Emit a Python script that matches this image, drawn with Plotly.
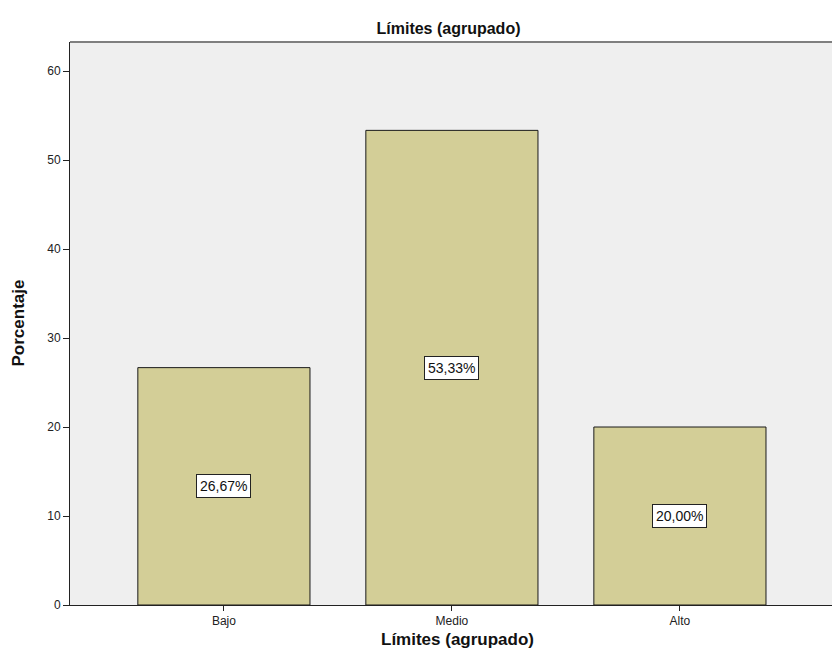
import plotly.graph_objects as go

# Frequency table: Límites (agrupado)
categories = ["Bajo", "Medio", "Alto"]
percentages = [26.67, 53.33, 20.00]
y_ticks = [0, 10, 20, 30, 40, 50, 60]

labels = [f"{v:.2f}%".replace(".", ",") for v in percentages]

FONT = "Liberation Sans, Arial, sans-serif"

fig = go.Figure()
fig.add_trace(go.Bar(
    x=list(range(len(categories))),
    y=percentages,
    width=0.755,
    marker=dict(color="#D3CE97", line=dict(color="#1a1a1a", width=1)),
    hoverinfo="skip",
))

# Value labels in boxed annotations at mid-height of each bar
for i, (v, lab) in enumerate(zip(percentages, labels)):
    fig.add_annotation(
        x=i, y=v / 2, text=lab, showarrow=False,
        font=dict(family=FONT, size=14, color="#111"),
        bgcolor="white", bordercolor="#222", borderwidth=1, borderpad=3,
    )

# Axis titles placed as annotations
fig.add_annotation(
    xref="paper", yref="paper", x=0, y=0.5, xshift=-52,
    xanchor="center", yanchor="middle", textangle=-90, showarrow=False,
    text="<b>Porcentaje</b>", font=dict(family=FONT, size=17, color="#111"),
)
fig.add_annotation(
    xref="paper", yref="paper", x=0.508, y=0, yshift=-34,
    xanchor="center", yanchor="middle", showarrow=False,
    text="<b>Límites (agrupado)</b>", font=dict(family=FONT, size=17, color="#111"),
)

# Grey frame line along the top of the plot area
fig.add_shape(type="line", xref="paper", yref="paper", x0=0, x1=1, y0=1, y1=1,
              line=dict(color="#7f7f7f", width=2))

fig.update_layout(
    width=832, height=668,
    margin=dict(l=70, r=0, t=42, b=63),
    paper_bgcolor="white",
    plot_bgcolor="#EFEFEF",
    showlegend=False,
    title=dict(text="<b>Límites (agrupado)</b>", x=448.5 / 832, xanchor="center",
               y=1 - 28 / 668, yanchor="middle",
               font=dict(family=FONT, size=16, color="#111")),
    font=dict(family=FONT, size=12, color="#222"),
)

fig.update_xaxes(
    range=[-0.675, 2.667],
    tickmode="array", tickvals=list(range(len(categories))), ticktext=categories,
    ticks="outside", ticklen=5, tickcolor="#222", tickwidth=1,
    showline=True, linecolor="#222", linewidth=1,
    showgrid=False, zeroline=False,
)
fig.update_yaxes(
    range=[0, 63.26],
    tickmode="array", tickvals=y_ticks,
    ticks="outside", ticklen=6, tickcolor="#222", tickwidth=1,
    showline=True, linecolor="#222", linewidth=1,
    showgrid=False, zeroline=False,
)

fig.write_html("out.html")
